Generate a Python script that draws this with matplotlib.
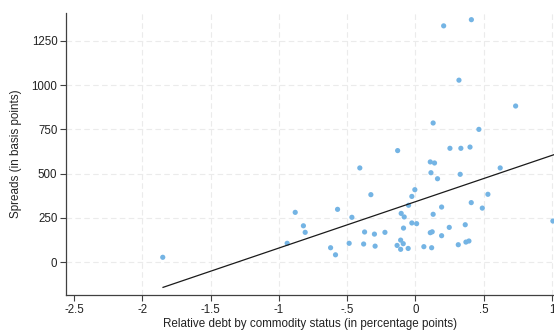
import matplotlib
matplotlib.use("Agg")
from matplotlib import pyplot as plt
import numpy as np

plt.rcParams['font.family'] = ['Liberation Sans', 'DejaVu Sans']

# relative debt (percentage points) vs spreads (basis points)
rel_debt = [
    0.207, 0.41, 0.319, 0.734, 0.13, 0.465, -0.13, 0.253, 0.333, 0.40,
    0.109, 0.14, 0.114, 0.328, 0.162, 0.621, -0.004, -0.026, -0.05, 0.531,
    0.409, 0.49, 0.192, 0.13, -0.104, -0.082, -0.026, 0.009, -0.087, 0.248,
    0.365, 0.109, 0.123, 0.192, 0.37, 0.392, 0.314, 0.062, 0.119, -0.053,
    -0.108, -0.089, -0.108, 1.007, -0.407, -0.326, -0.88, -0.57, -0.465, -0.82,
    -0.807, -0.939, -0.621, -0.585, -0.485, -0.372, -0.379, -0.30, -0.295, -0.223,
    -0.134, -1.85,
]
spreads = [
    1335, 1370, 1028, 882, 786, 750, 630, 643, 643, 650,
    566, 560, 505, 496, 471, 532, 409, 371, 321, 383,
    336, 305, 311, 270, 275, 255, 221, 217, 192, 196,
    211, 166, 171, 149, 113, 119, 98, 87, 81, 77,
    124, 104, 72, 232, 532, 381, 281, 298, 253, 205,
    168, 106, 81, 41, 106, 170, 102, 158, 90, 168,
    94, 27,
]

# fitted line end points
fit_x = [-1.848, 1.015]
fit_y = [-143, 607]

x_ticks = [-2.5, -2, -1.5, -1, -0.5, 0, 0.5, 1]
x_tick_labels = ['-2.5', '-2', '-1.5', '-1', '-.5', '0', '.5', '1']
y_ticks = [0, 250, 500, 750, 1000, 1250]

fig = plt.figure(figsize=(5.54, 3.32), dpi=100)
ax = fig.add_axes([0.120, 0.111, 0.880, 0.850])

ax.scatter(rel_debt, spreads, s=14, color='#74b4e4', edgecolors='none', zorder=3)
ax.plot(fit_x, fit_y, color='#1a1a1a', linewidth=0.9, zorder=4)

ax.set_xlim(-2.555, 1.015)
ax.set_ylim(-187, 1408)
ax.set_xticks(x_ticks)
ax.set_xticklabels(x_tick_labels)
ax.set_yticks(y_ticks)

ax.grid(True, color='#ebebeb', linestyle=(0, (5, 3)), linewidth=0.8)
ax.set_axisbelow(True)
ax.xaxis.get_gridlines()[0].set_visible(False)

for side in ['top', 'right']:
    ax.spines[side].set_visible(False)
for side in ['left', 'bottom']:
    ax.spines[side].set_color('#404040')
    ax.spines[side].set_linewidth(0.9)

ax.tick_params(axis='both', colors='#404040', labelcolor='#222222',
               labelsize=8.3, length=4, width=0.8, pad=2.5)

ax.set_xlabel('Relative debt by commodity status (in percentage points)', fontsize=8.4, color='#222222', labelpad=1)
ax.set_ylabel('Spreads (in basis points)', fontsize=8.4, color='#222222', labelpad=7)

fig.savefig('out.png', dpi=100)
